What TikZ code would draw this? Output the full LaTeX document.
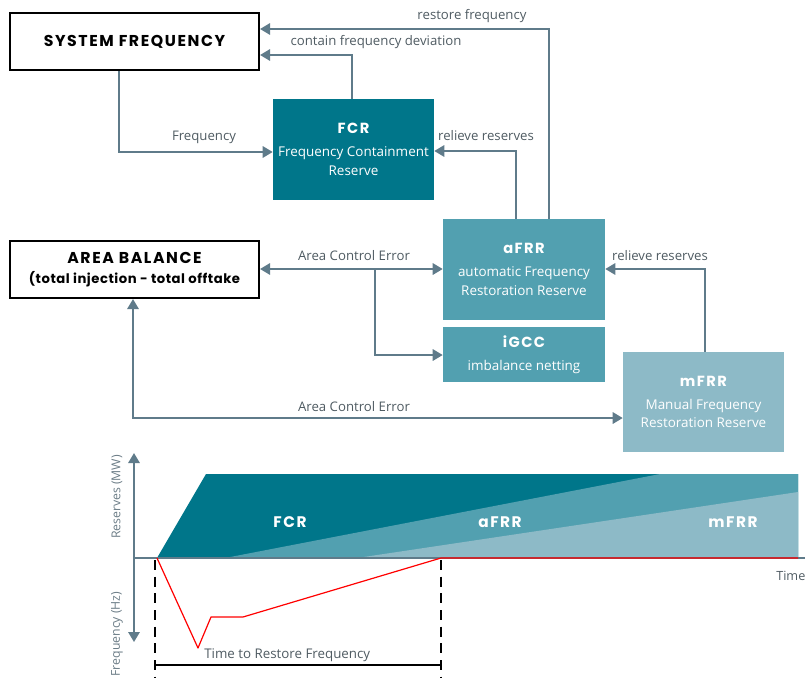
\documentclass[tikz,border=0pt]{standalone}
\usepackage{fontspec}
\setmainfont{Open Sans}
\newfontfamily\headfont{Poppins}[LetterSpace=10]
\newfontfamily\subheadfont{Poppins}[LetterSpace=4]
\usetikzlibrary{arrows.meta,calc}
\definecolor{fcrc}{HTML}{00768A}
\definecolor{afrrc}{HTML}{52A0B0}
\definecolor{mfrrc}{HTML}{8DBAC7}
\definecolor{linec}{HTML}{5F7B8A}
\definecolor{txtc}{HTML}{4F5B62}
\definecolor{axtxt}{HTML}{6B7C86}
\begin{document}
\begin{tikzpicture}[x=0.75pt,y=-0.75pt,
  conn/.style={draw=linec,line width=1.5pt,-{Triangle[length=7.5pt,width=8.5pt]}},
  conn2/.style={draw=linec,line width=1.5pt,{Triangle[length=7.5pt,width=8.5pt]}-{Triangle[length=7.5pt,width=8.5pt]}},
  lbl/.style={font=\fontsize{9.9}{11}\selectfont,text=txtc,inner sep=0pt},
  sz/.style 2 args={minimum width=#1*0.75pt,minimum height=#2*0.75pt},
  outbox/.style={draw=black,line width=1.6pt,fill=white,inner sep=0pt,align=center},
  resbox/.style={inner sep=0pt,align=center,text=white,font=\fontsize{10.1}{14}\selectfont},
  chartlbl/.style={text=white,inner sep=0pt,font=\headfont\bfseries\fontsize{11.5}{12}\selectfont},
  axlbl/.style={text=axtxt,inner sep=0pt,rotate=90,font=\fontsize{9.2}{10}\selectfont}
]
\useasboundingbox (0,0) rectangle (805,678);

% ---------- boxes ----------
\node[outbox,sz={249}{57}] (sys) at (134.5,41.5)
  {\headfont\bfseries\fontsize{11.8}{12}\selectfont SYSTEM FREQUENCY};
\node[outbox,sz={249}{57}] (area) at (134.5,269.5)
  {{\headfont\bfseries\fontsize{11.8}{12}\selectfont AREA BALANCE}\\[3pt]
   {\subheadfont\bfseries\fontsize{9.9}{11}\selectfont (total injection - total offtake}};
\node[resbox,fill=fcrc,sz={161}{101}] (fcr) at (353.5,149.5)
  {{\headfont\bfseries\fontsize{11}{12}\selectfont FCR}\\[3pt]Frequency Containment\\Reserve};
\node[resbox,fill=afrrc,sz={162}{101}] (afrr) at (524,269.5)
  {{\headfont\bfseries\fontsize{11}{12}\selectfont aFRR}\\[3pt]automatic Frequency\\Restoration Reserve};
\node[resbox,fill=afrrc,sz={162}{55}] (igcc) at (524,354.5)
  {{\headfont\bfseries\fontsize{11}{12}\selectfont iGCC}\\[3pt]imbalance netting};
\node[resbox,fill=mfrrc,sz={161}{100}] (mfrr) at (703.5,402)
  {{\headfont\bfseries\fontsize{11}{12}\selectfont mFRR}\\[3pt]Manual Frequency\\Restoration Reserve};

% ---------- connectors ----------
\coordinate (rfc) at (549,29);
\draw[conn] (afrr.north -| rfc) -- (rfc) -- (sys.east |- rfc);
\node[lbl] (l1) at (472,16) {restore frequency};

\coordinate (cfc) at (352,55);
\draw[conn] (fcr.north -| cfc) |- (sys.east |- cfc);
\node[lbl] (l2) at (376,42) {contain frequency deviation};

\coordinate (fc) at (119,152);
\draw[conn] (sys.south -| fc) |- (fcr.west |- fc);
\node[lbl] (l3) at (204,137) {Frequency};

\coordinate (rrc) at (516,151);
\draw[conn] (afrr.north -| rrc) |- (fcr.east |- rrc);
\node[lbl] (l4) at (486,136) {relieve reserves};

\coordinate (acec) at (375,269);
\draw[conn2] (area.east |- acec) -- (afrr.west |- acec);
\node[lbl] (l5) at (354,256) {Area Control Error};
\coordinate (brc) at (375,355);
\draw[conn] (acec) -- (brc) -- (igcc.west |- brc);

\coordinate (ace2) at (133,418);
\draw[conn2] (area.south -| ace2) -- (ace2) -- (mfrr.west |- ace2);
\node[lbl] (l6) at (354,407) {Area Control Error};

\coordinate (mrc) at (705,269);
\draw[conn] (mfrr.north -| mrc) -- (mrc) -- (afrr.east |- mrc);
\node[lbl] (l7) at (660,256) {relieve reserves};

% ---------- chart ----------
\fill[fcrc] (157,558) -- (206,474) -- (798,474) -- (798,558) -- cycle;
\fill[afrrc] (225,558) -- (660,474) -- (798,474) -- (798,558) -- cycle;
\fill[mfrrc] (357,558) -- (798,492) -- (798,558) -- cycle;

\coordinate (ytop) at (134,453);
\coordinate (ybot) at (134,642);
\coordinate (x0) at (134,558);
\coordinate (xend) at (805,558);
\draw[conn2] (ytop) -- (ybot);
\draw[draw=linec,line width=1.5pt] (x0) -- (xend);

\coordinate (f0) at (157,558);
\coordinate (f1) at (198,648);
\coordinate (f2) at (211,617);
\coordinate (f3) at (243,617);
\coordinate (f4) at (441,558);
\coordinate (f5) at (798,558);
\draw[red,line width=0.9pt,line join=round] (f0) -- (f1) -- (f2) -- (f3) -- (f4) -- (f5);

\coordinate (d1a) at (155,560);
\coordinate (d1b) at (155,678);
\coordinate (d2a) at (441,560);
\coordinate (d2b) at (441,678);
\draw[black,line width=0.8pt,dash pattern=on 7.5pt off 5pt] (d1a) -- (d1b);
\draw[black,line width=0.8pt,dash pattern=on 7.5pt off 5pt] (d2a) -- (d2b);
\coordinate (m1) at (155,665);
\coordinate (m2) at (441,665);
\draw[black,line width=0.8pt] (m1) -- (m2);

\node[chartlbl] (c1) at (290,522) {FCR};
\node[chartlbl] (c2) at (500,522) {aFRR};
\node[chartlbl] (c3) at (733,522) {mFRR};

\node[inner sep=0pt,anchor=west,text=txtc,font=\fontsize{10}{12}\selectfont] (trf) at (204,655) {Time to Restore Frequency};
\node[axlbl] (yl1) at (117,497) {Reserves (MW)};
\node[axlbl] (yl2) at (117,634) {Frequency (Hz)};
\node[inner sep=0pt,anchor=west,text=txtc,font=\fontsize{9.5}{11}\selectfont] (tl) at (776,576) {Time};
\end{tikzpicture}
\end{document}
